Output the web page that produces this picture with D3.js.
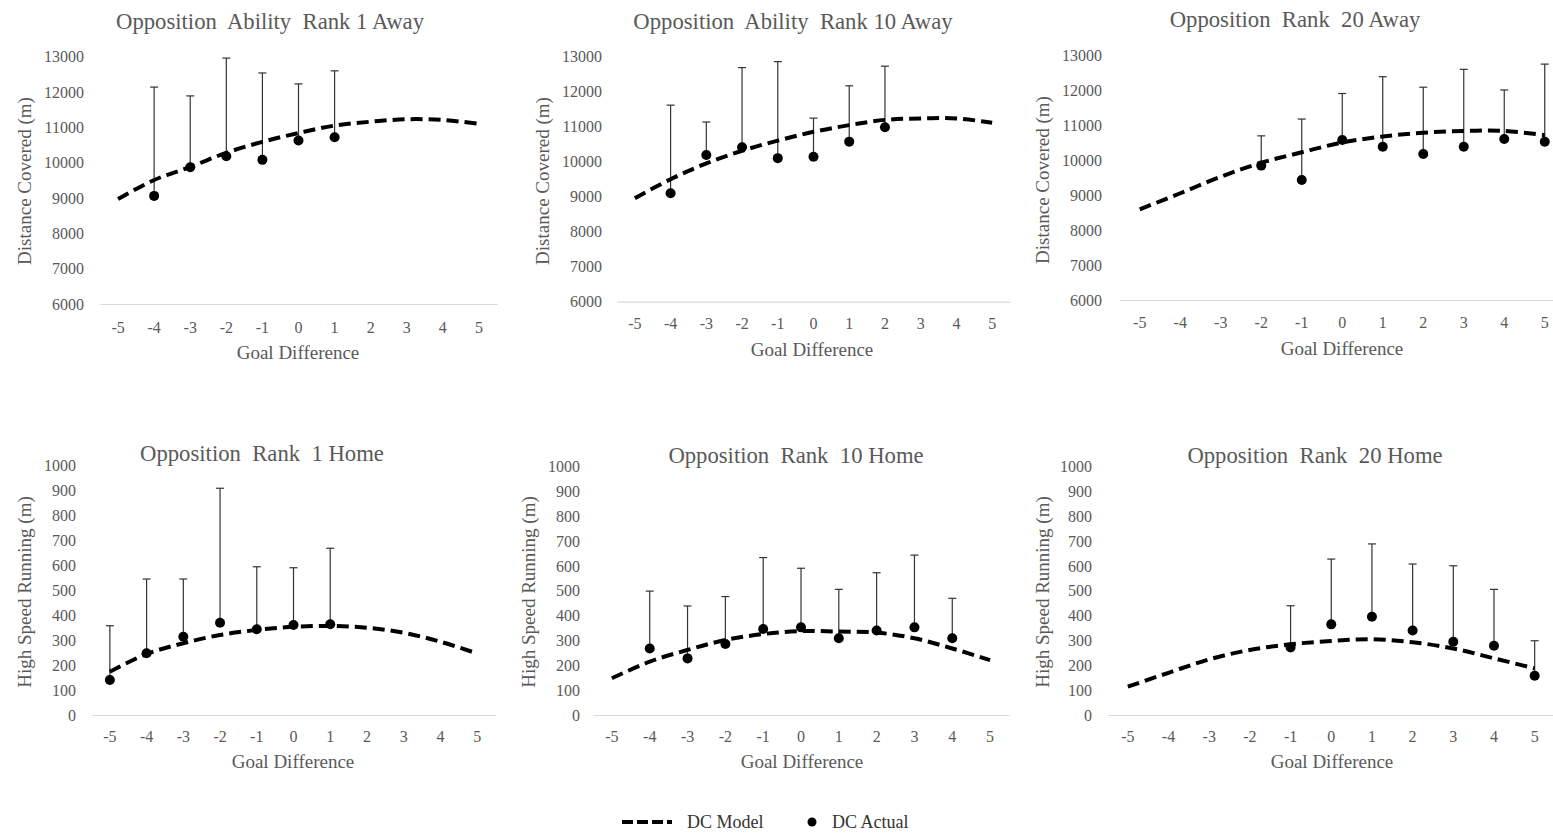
<!DOCTYPE html>
<html>
<head>
<meta charset="utf-8">
<script src="https://cdn.jsdelivr.net/npm/d3@7"></script>
<style>
  body { margin: 0; background: #fff; }
  svg text { font-family: "Liberation Serif", "Times New Roman", serif; }
</style>
</head>
<body>
<div id="chart"></div>
<script>
// categories and tick labels
const goalDiff = [-5, -4, -3, -2, -1, 0, 1, 2, 3, 4, 5];
const dcTicks = [6000, 7000, 8000, 9000, 10000, 11000, 12000, 13000];
const hsrTicks = [0, 100, 200, 300, 400, 500, 600, 700, 800, 900, 1000];

// Distance covered, away
const model1A  = [8970, 9510, 9880, 10280, 10590, 10840, 11050, 11160, 11230, 11210, 11100];
const actual1A = [null, 9060, 9870, 10180, 10080, 10630, 10720, null, null, null, null];
const upper1A  = [null, 12140, 11890, 12960, 12540, 12230, 12600, null, null, null, null];

const model10A  = [8950, 9490, 9940, 10300, 10590, 10840, 11030, 11180, 11220, 11220, 11100];
const actual10A = [null, 9090, 10180, 10400, 10090, 10130, 10560, 10970, null, null, null];
const upper10A  = [null, 11600, 11120, 12670, 12840, 11230, 12150, 12710, null, null, null];

const model20A  = [8590, 9050, 9520, 9920, 10220, 10500, 10670, 10780, 10830, 10830, 10710];
const actual20A = [null, null, null, 9840, 9430, 10570, 10380, 10170, 10380, 10600, 10520];
const upper20A  = [null, null, null, 10690, 11170, 11900, 12380, 12080, 12590, 12000, 12740];

// High speed running, home
const model1H  = [173, 244, 287, 320, 340, 353, 356, 349, 329, 293, 246];
const actual1H = [140, 247, 313, 369, 343, 360, 363, null, null, null, null];
const upper1H  = [357, 544, 544, 907, 593, 589, 667, null, null, null, null];

const model10H  = [148, 215, 262, 302, 326, 338, 336, 332, 309, 268, 221];
const actual10H = [null, 268, 228, 286, 346, 353, 309, 340, 353, 309, null];
const upper10H  = [null, 499, 439, 477, 634, 591, 506, 573, 644, 470, null];

const model20H  = [114, 170, 224, 262, 285, 298, 305, 293, 268, 228, 188];
const actual20H = [null, null, null, null, 272, 365, 396, 340, 295, 279, 158];
const upper20H  = [null, null, null, null, 440, 628, 689, 608, 601, 506, 299];

const textCol = "#595959";

const panels = [
    { title: "Opposition  Ability  Rank 1 Away", yLabel: "Distance Covered (m)", ticks: dcTicks,
      model: model1A, actual: actual1A, upper: upper1A,
      xr: [100, 497], yr: [304, 56.7], titleX: 270, titleY: 29, yLabX: 24, yLabY: 181,
      xLabX: 298, xLabY: 359, tickY: 333, tickRight: 84 },
    { title: "Opposition  Ability  Rank 10 Away", yLabel: "Distance Covered (m)", ticks: dcTicks,
      model: model10A, actual: actual10A, upper: upper10A,
      xr: [617, 1010], yr: [301.7, 56], titleX: 793, titleY: 29, yLabX: 542, yLabY: 181,
      xLabX: 812, xLabY: 356, tickY: 329, tickRight: 602 },
    { title: "Opposition  Rank  20 Away", yLabel: "Distance Covered (m)", ticks: dcTicks,
      model: model20A, actual: actual20A, upper: upper20A,
      xr: [1119.5, 1565], yr: [300, 55], titleX: 1295, titleY: 27, yLabX: 1042, yLabY: 180,
      xLabX: 1342, xLabY: 355, tickY: 328, tickRight: 1102 },
    { title: "Opposition  Rank  1 Home", yLabel: "High Speed Running (m)", ticks: hsrTicks,
      model: model1H, actual: actual1H, upper: upper1H,
      xr: [91.5, 495.5], yr: [715, 465], titleX: 262, titleY: 461, yLabX: 24, yLabY: 592,
      xLabX: 293, xLabY: 768, tickY: 742, tickRight: 76 },
    { title: "Opposition  Rank  10 Home", yLabel: "High Speed Running (m)", ticks: hsrTicks,
      model: model10H, actual: actual10H, upper: upper10H,
      xr: [593, 1009], yr: [715, 466.7], titleX: 796, titleY: 463, yLabX: 528, yLabY: 592,
      xLabX: 802, xLabY: 768, tickY: 742, tickRight: 580 },
    { title: "Opposition  Rank  20 Home", yLabel: "High Speed Running (m)", ticks: hsrTicks,
      model: model20H, actual: actual20H, upper: upper20H,
      xr: [1107.5, 1555], yr: [715, 466.7], titleX: 1315, titleY: 463, yLabX: 1042, yLabY: 592,
      xLabX: 1332, xLabY: 768, tickY: 742, tickRight: 1092 }
];

const svg = d3.select("#chart").append("svg")
    .attr("width", 1553)
    .attr("height", 834);

function renderPanel(p) {
    const g = svg.append("g");

    const x = d3.scaleBand()
        .domain(goalDiff)
        .range(p.xr)
        .padding(0);

    const y = d3.scaleLinear()
        .domain([p.ticks[0], p.ticks[p.ticks.length - 1]])
        .range(p.yr);

    const cx = d => x(d) + x.bandwidth() / 2;

    // x axis
    const xAxis = g.append("g")
        .attr("transform", `translate(0,${p.yr[0]})`)
        .call(d3.axisBottom(x).tickSize(0).tickSizeOuter(0));
    xAxis.select(".domain").attr("stroke", "#d9d9d9").attr("stroke-width", 1.2);
    xAxis.selectAll("text")
        .attr("y", p.tickY - p.yr[0])
        .attr("dy", 0)
        .attr("fill", textCol)
        .style("font-size", "16px")
        .style("font-family", "'Liberation Serif', serif");

    // y axis (labels only)
    const yAxis = g.append("g")
        .attr("transform", `translate(${p.tickRight},0)`)
        .call(d3.axisLeft(y).tickValues(p.ticks).tickFormat(d3.format("d")).tickSize(0).tickPadding(0));
    yAxis.select(".domain").remove();
    yAxis.selectAll("text")
        .attr("fill", textCol)
        .style("font-size", "16px")
        .style("font-family", "'Liberation Serif', serif");

    // error bars
    const bars = goalDiff.map((d, i) => ({ gd: d, lo: p.actual[i], hi: p.upper[i] }))
        .filter(d => d.lo !== null && d.hi !== null);

    g.selectAll("line.err")
        .data(bars)
        .enter()
        .append("line")
        .attr("class", "err")
        .attr("x1", d => cx(d.gd))
        .attr("x2", d => cx(d.gd))
        .attr("y1", d => y(d.lo))
        .attr("y2", d => y(d.hi))
        .attr("stroke", "#333")
        .attr("stroke-width", 1.2);

    g.selectAll("line.cap")
        .data(bars)
        .enter()
        .append("line")
        .attr("class", "cap")
        .attr("x1", d => cx(d.gd) - 4)
        .attr("x2", d => cx(d.gd) + 4)
        .attr("y1", d => y(d.hi))
        .attr("y2", d => y(d.hi))
        .attr("stroke", "#333")
        .attr("stroke-width", 1.2);

    // model curve
    const line = d3.line()
        .x((d, i) => cx(goalDiff[i]))
        .y(d => y(d))
        .curve(d3.curveCatmullRom);

    g.append("path")
        .datum(p.model)
        .attr("d", line)
        .attr("fill", "none")
        .attr("stroke", "#000")
        .attr("stroke-width", 4)
        .attr("stroke-dasharray", "12,6");

    // actual points
    g.selectAll("circle")
        .data(bars)
        .enter()
        .append("circle")
        .attr("cx", d => cx(d.gd))
        .attr("cy", d => y(d.lo))
        .attr("r", 5)
        .attr("fill", "#000");

    // labels
    g.append("text")
        .attr("x", p.titleX)
        .attr("y", p.titleY)
        .attr("text-anchor", "middle")
        .attr("fill", textCol)
        .style("font-size", "22.7px")
        .style("white-space", "pre")
        .text(p.title);

    g.append("text")
        .attr("text-anchor", "middle")
        .attr("transform", `translate(${p.yLabX},${p.yLabY}) rotate(-90)`)
        .attr("dy", "0.35em")
        .attr("fill", textCol)
        .style("font-size", "19px")
        .text(p.yLabel);

    g.append("text")
        .attr("x", p.xLabX)
        .attr("y", p.xLabY)
        .attr("text-anchor", "middle")
        .attr("fill", textCol)
        .style("font-size", "19px")
        .text("Goal Difference");
}

panels.forEach(renderPanel);

// legend
const legend = svg.append("g").attr("transform", "translate(0,822)");
legend.append("line")
    .attr("x1", 622).attr("x2", 672)
    .attr("y1", 0).attr("y2", 0)
    .attr("stroke", "#000")
    .attr("stroke-width", 4)
    .attr("stroke-dasharray", "11,4");
legend.append("text")
    .attr("x", 687).attr("y", 0).attr("dy", "0.33em")
    .attr("fill", "#333")
    .style("font-size", "18px")
    .text("DC Model");
legend.append("circle")
    .attr("cx", 812).attr("cy", 0)
    .attr("r", 4.5)
    .attr("fill", "#000");
legend.append("text")
    .attr("x", 832).attr("y", 0).attr("dy", "0.33em")
    .attr("fill", "#333")
    .style("font-size", "18px")
    .text("DC Actual");
</script>
</body>
</html>
